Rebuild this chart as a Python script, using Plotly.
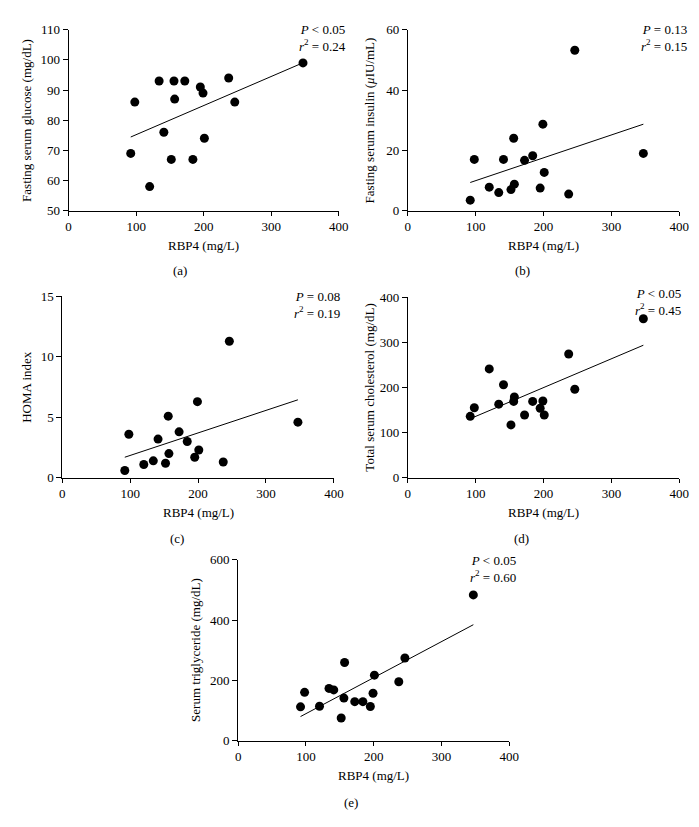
import numpy as np
import plotly.graph_objects as go

# RBP4 (mg/L) per subject, shared by all five panels
rbp4 = [92, 98, 120, 134, 141, 152, 156, 157, 172, 184, 195, 199, 201, 237, 246, 347]

glucose = [69, 86, 58, 93, 76, 67, 93, 87, 93, 67, 91, 89, 74, 94, 86, 99]
insulin = [3.5, 17, 7.8, 6, 17, 7, 24, 8.8, 16.7, 18.2, 7.5, 28.7, 12.7, 5.5, 53.2, 19]
homa = [0.6, 3.6, 1.1, 1.4, 3.2, 1.2, 5.1, 2.0, 3.8, 3.0, 1.7, 6.3, 2.3, 1.3, 11.3, 4.6]
cholesterol = [136, 155, 241, 163, 206, 117, 169, 179, 139, 169, 154, 170, 139, 274, 196, 352]
triglyceride = [113, 161, 115, 174, 169, 76, 142, 260, 130, 130, 114, 158, 218, 196, 275, 484]

panel_letters = ["(a)", "(b)", "(c)", "(d)", "(e)"]
y_titles = ["Fasting serum glucose (mg/dL)", "Fasting serum insulin (<i>μ</i>IU/mL)",
            "HOMA index", "Total serum cholesterol (mg/dL)", "Serum triglyceride (mg/dL)"]
p_texts = ["<i>P</i> < 0.05", "<i>P</i> = 0.13", "<i>P</i> = 0.08", "<i>P</i> < 0.05", "<i>P</i> < 0.05"]
r2_texts = ["0.24", "0.15", "0.19", "0.45", "0.60"]
y_ranges = [[50, 110], [0, 60], [0, 15], [0, 400], [0, 600]]
y_dticks = [10, 20, 5, 100, 200]
series = [glucose, insulin, homa, cholesterol, triglyceride]

W, H = 699, 827
FONT = "Liberation Serif"

# pixel boxes of each plot area: x0, x1, ytop, ybottom
boxes = [(58.7, 334, 15, 199.3), (404.3, 681, 15, 199.3),
         (52.3, 329, 286.7, 471.3), (404.3, 681, 287.3, 471.3),
         (231.5, 507.7, 555, 739.3)]
stat_pos = [(343, 23.7), (690.7, 23.5), (337.7, 295), (685, 292.8), (517, 563.8)]
letter_pos = [(172, 260.7), (521.7, 260.7), (169, 533), (520, 533), (346.7, 801.7)]
ytitle_x = [15, 365, 15, 365, 188]


def px(x):
    return x / W


def py(y):
    return 1 - y / H


fig = go.Figure()
annotations = []

for i, (yvals, box) in enumerate(zip(series, boxes)):
    n = "" if i == 0 else str(i + 1)
    x0, x1, yt, yb = box

    fig.add_trace(go.Scatter(
        x=rbp4, y=yvals, mode="markers",
        marker=dict(color="black", size=9),
        xaxis="x" + n, yaxis="y" + n, showlegend=False
    ))

    # least-squares fit line
    slope, intercept = np.polyfit(rbp4, yvals, 1)
    xs = np.array([min(rbp4), max(rbp4)])
    fig.add_trace(go.Scatter(
        x=xs, y=slope * xs + intercept, mode="lines",
        line=dict(color="black", width=1),
        xaxis="x" + n, yaxis="y" + n, showlegend=False
    ))

    axis_common = dict(
        showline=True, linecolor="black", linewidth=1,
        ticks="outside", tickcolor="black", tickwidth=1,
        showgrid=False, zeroline=False,
        tickfont=dict(family=FONT, size=13, color="black"),
    )
    fig.update_layout(**{
        "xaxis" + n: dict(axis_common, domain=[px(x0), px(x1)], range=[0, 400],
                          dtick=100, ticklen=4, anchor="y" + n),
        "yaxis" + n: dict(axis_common, domain=[py(yb), py(yt)], range=y_ranges[i],
                          dtick=y_dticks[i], ticklen=5, anchor="x" + n),
    })

    font = dict(family=FONT, size=13, color="black")
    annotations.append(dict(
        x=px(stat_pos[i][0]), y=py(stat_pos[i][1]), xref="paper", yref="paper",
        text=p_texts[i] + "<br><i>r</i><sup>2</sup> = " + r2_texts[i],
        showarrow=False, xanchor="right", yanchor="middle", align="right", font=font
    ))
    annotations.append(dict(
        x=px((x0 + x1) / 2), y=py(yb + 35.7), xref="paper", yref="paper",
        text="RBP4 (mg/L)", showarrow=False, xanchor="center", yanchor="middle", font=font
    ))
    annotations.append(dict(
        x=px(ytitle_x[i]), y=py((yt + yb) / 2), xref="paper", yref="paper",
        text=y_titles[i], textangle=-90, showarrow=False,
        xanchor="center", yanchor="middle", font=font
    ))
    annotations.append(dict(
        x=px(letter_pos[i][0]), y=py(letter_pos[i][1]), xref="paper", yref="paper",
        text=panel_letters[i], showarrow=False, xanchor="center", yanchor="middle", font=font
    ))

fig.update_layout(
    width=W, height=H,
    margin=dict(l=0, r=0, t=0, b=0),
    paper_bgcolor="white", plot_bgcolor="white",
    annotations=annotations,
    font=dict(family=FONT, color="black"),
)

fig.write_html("out.html")
